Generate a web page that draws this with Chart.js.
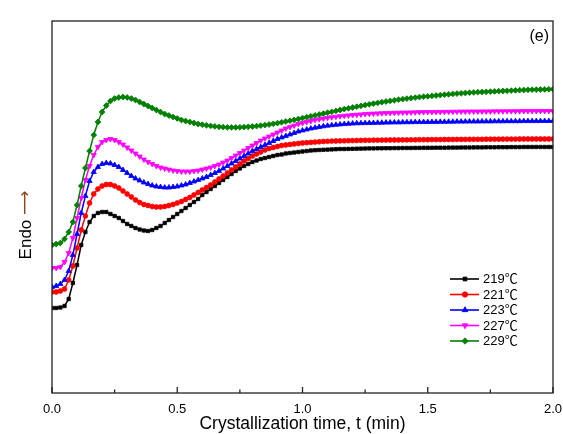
<!DOCTYPE html>
<html>
<head>
<meta charset="utf-8">
<script src="https://cdn.jsdelivr.net/npm/chart.js@4/dist/chart.umd.min.js"></script>
<style>
html,body{margin:0;padding:0;background:#fff;}
#wrap{width:563px;height:434px;position:relative;}
</style>
</head>
<body>
<div id="wrap"><canvas id="c" width="563" height="434"></canvas></div>
<script>
// Sampling: one DSC reading per second, time axis in minutes (0 .. 2 min)
const sampleCount = 121;
const times = Array.from({length: sampleCount}, (_, i) => i / 60);

const seriesLabels = ['219\u2103', '221\u2103', '223\u2103', '227\u2103', '229\u2103'];
const xTickValues = [0, 0.5, 1.0, 1.5, 2.0];

// Heat flow (arbitrary units, endo up)
const endo219 = [85,85,85.5,87,94,110,128,148,161,171,177,180,181,181,179,177,175,172,169,167,165,163.5,162.5,162,163,165,167,170,173,176,179,182,185,188,191,194,198,201,204,207,210,213,216,219,222,224.5,227,229,231,232.5,234,235,236,237,238,238.5,239.5,240,240.5,241,241.5,242,242.5,242.8,243,243.2,243.4,243.6,243.8,244,244,244.1,244.2,244.3,244.4,244.5,244.6,244.6,244.7,244.7,244.8,244.8,244.9,244.9,245,245,245,245.1,245.1,245.2,245.2,245.2,245.3,245.3,245.3,245.4,245.4,245.4,245.5,245.5,245.5,245.6,245.6,245.6,245.7,245.7,245.7,245.8,245.8,245.8,245.9,245.9,245.9,246,246,246,246,246,246,246,246];
const endo221 = [101,101,102,104,113,127,145,163,177,190,199,204,207,208.5,208.5,207,205,202,199,196,193,190.5,188.5,187.5,186.5,186,186,186.5,187.5,188.5,190,191.5,193.5,195.5,198,200.5,203,205.5,208,211,214,217,220,223,226,229,232,234.5,237,239,241,243,244.5,245.5,246.5,247.5,248,248.5,249,249.5,250,250.3,250.6,250.9,251.2,251.5,251.7,251.9,252,252.1,252.2,252.3,252.4,252.5,252.6,252.7,252.7,252.8,252.8,252.9,252.9,253,253,253,253.1,253.1,253.2,253.2,253.3,253.3,253.3,253.4,253.4,253.4,253.5,253.5,253.5,253.6,253.6,253.6,253.7,253.7,253.7,253.7,253.8,253.8,253.8,253.8,253.9,253.9,253.9,253.9,254,254,254,254,254,254,254,254,254];
const endo223 = [106,107,109,113,122,138,159,180,197,212,221,226,229,230,229.5,228,226,223,220,217,214.5,212.5,210.5,209,207.5,206.5,206,205.5,205.5,206,206.5,207.5,208.5,210,211.5,213,214.5,216,218,220,222,224.5,227,229.5,232,234.5,237,239.5,242,244,246,248,250,252,254,255.5,257,258.5,260,261.5,262.5,263.5,264.5,265.3,266,266.7,267.3,267.8,268.2,268.6,268.9,269.2,269.5,269.7,269.8,269.9,270,270.1,270.2,270.3,270.4,270.5,270.6,270.6,270.7,270.8,270.8,270.9,270.9,271,271,271.1,271.1,271.2,271.2,271.3,271.3,271.4,271.4,271.4,271.5,271.5,271.5,271.6,271.6,271.6,271.7,271.7,271.7,271.8,271.8,271.8,271.8,271.9,271.9,271.9,271.9,272,272,272,272];
const endo227 = [125,125,126,131,140,155,175,195,213,227,238,246,251,253,254,253,251,248.5,245.5,242.5,239.5,236.5,233.5,231,229,227,225.5,224.5,223.5,222.5,222,221.5,221.5,221.5,222,222.5,223.5,224.5,225.5,227,228.5,230.5,232.5,235,237.5,240,242.5,245,247.5,250,252.5,254.5,256.5,258.5,260.5,262.5,264.5,266,267.5,269,270,271,272,273,273.8,274.5,275.2,275.8,276.3,276.8,277.2,277.6,278,278.3,278.6,278.9,279.2,279.4,279.6,279.8,280,280.1,280.2,280.3,280.4,280.5,280.6,280.7,280.8,280.9,281,281,281.1,281.1,281.2,281.2,281.3,281.3,281.4,281.4,281.5,281.5,281.5,281.6,281.6,281.6,281.7,281.7,281.7,281.8,281.8,281.8,281.8,281.9,281.9,281.9,281.9,282,282,282,282];
const endo229 = [148,149,150,154,161,171,188,207,225,242,258,271,281,287.5,292,294.5,295.5,296,295.5,294.5,293,291,289,287,285,283,281,279,277.5,276,274.5,273,272,271,270,269,268.3,267.7,267.1,266.6,266.2,265.9,265.7,265.6,265.6,265.7,265.9,266.2,266.5,266.9,267.4,267.9,268.5,269.2,269.9,270.7,271.5,272.3,273.1,274,274.9,275.8,276.7,277.6,278.5,279.4,280.3,281.2,282.1,283,283.9,284.7,285.5,286.3,287.1,287.9,288.7,289.4,290.1,290.8,291.5,292.1,292.7,293.3,293.9,294.4,294.9,295.4,295.9,296.3,296.7,297.1,297.5,297.9,298.3,298.7,299.1,299.4,299.7,300,300.3,300.6,300.8,301,301.2,301.4,301.6,301.8,302,302.2,302.4,302.6,302.8,303,303.2,303.3,303.4,303.5,303.6,303.7,303.8];

const seriesValues = [endo219, endo221, endo223, endo227, endo229];
const seriesColors = ['#000000', '#ff0000', '#0000ff', '#ff00ff', '#008000'];
const seriesPoints = ['rect', 'circle', 'triangle', 'triangle', 'rectRot'];
const seriesRot = [0, 0, 0, 180, 0];
const seriesRadius = [2.4, 2.4, 3, 3, 2.9];

const FONT = "Arial, 'Liberation Sans', 'Noto Sans CJK SC', sans-serif";

const datasets = seriesValues.map((vals, k) => ({
  label: seriesLabels[k],
  data: vals.map((v, i) => ({x: times[i], y: v})),
  borderColor: seriesColors[k],
  backgroundColor: seriesColors[k],
  borderWidth: 1.5,
  pointStyle: seriesPoints[k],
  rotation: seriesRot[k],
  pointRadius: seriesRadius[k],
  pointBorderWidth: 0.8,
  tension: 0,
  order: seriesValues.length - k
}));

const framePlugin = {
  id: 'frame',
  afterDatasetsDraw(chart) {
    const ctx = chart.ctx, a = chart.chartArea, xs = chart.scales.x;
    ctx.save();
    ctx.strokeStyle = '#222';
    ctx.lineWidth = 1.3;
    ctx.strokeRect(a.left, a.top, a.right - a.left, a.bottom - a.top);
    // inward ticks on bottom axis
    for (let t = 0; t <= 2.0001; t += 0.25) {
      const px = xs.getPixelForValue(t);
      const major = Math.abs(t * 2 - Math.round(t * 2)) < 1e-6;
      ctx.beginPath();
      ctx.moveTo(px, a.bottom);
      ctx.lineTo(px, a.bottom - (major ? 6 : 3.5));
      ctx.stroke();
    }
    // panel label
    ctx.fillStyle = '#000';
    ctx.font = '16px ' + FONT;
    ctx.textAlign = 'right';
    ctx.textBaseline = 'alphabetic';
    ctx.fillText('(e)', 549, 41);
    // y title: Endo + arrow, rotated
    ctx.translate(26, 225);
    ctx.rotate(-Math.PI / 2);
    ctx.font = '17px ' + FONT;
    ctx.textBaseline = 'middle';
    ctx.textAlign = 'left';
    const w1 = ctx.measureText('Endo ').width;
    ctx.font = "17px 'DejaVu Sans', sans-serif";
    const w2 = ctx.measureText('\u27F6').width;
    let x0 = -(w1 + w2) / 2;
    ctx.font = '17px ' + FONT;
    ctx.fillStyle = '#000';
    ctx.fillText('Endo ', x0, 0);
    ctx.font = "17px 'DejaVu Sans', sans-serif";
    ctx.fillStyle = '#8b4513';
    ctx.fillText('\u27F6', x0 + w1, 0);
    ctx.restore();

    // legend
    ctx.save();
    chart.data.datasets.forEach((ds, k) => {
      const y = 279 + k * 15.5;
      ctx.strokeStyle = ds.borderColor;
      ctx.lineWidth = 1.6;
      ctx.beginPath();
      ctx.moveTo(450, y);
      ctx.lineTo(479, y);
      ctx.stroke();
      ctx.fillStyle = ds.backgroundColor;
      ctx.lineWidth = 0.8;
      Chart.helpers.drawPoint(ctx, {pointStyle: ds.pointStyle, rotation: ds.rotation, radius: ds.pointRadius + 0.3, borderWidth: 0.8}, 465, y);
      ctx.fillStyle = '#000';
      ctx.font = '13px ' + FONT;
      ctx.textAlign = 'left';
      ctx.textBaseline = 'middle';
      ctx.fillText(ds.label, 483, y + 0.5);
    });
    ctx.restore();
  }
};

new Chart(document.getElementById('c'), {
  type: 'line',
  data: {datasets},
  options: {
    responsive: false,
    animation: false,
    devicePixelRatio: 1,
    layout: {padding: {top: 21, right: 10, left: 0, bottom: 0}},
    plugins: {legend: {display: false}, tooltip: {enabled: false}},
    scales: {
      x: {
        type: 'linear', min: 0, max: 2,
        afterBuildTicks: (s) => { s.ticks = xTickValues.map(v => ({value: v})); },
        afterFit: (s) => { s.height = 41; s.paddingLeft = 0; s.paddingRight = 0; },
        grid: {display: false, drawTicks: false},
        border: {display: false},
        ticks: {
          color: '#000', font: {family: FONT, size: 13}, padding: 9,
          maxRotation: 0, autoSkip: false,
          callback: (v) => Number(v).toFixed(1)
        },
        title: {display: true, text: 'Crystallization time, t (min)', color: '#000', font: {family: FONT, size: 17.5, lineHeight: 1.1}, padding: {top: 0, bottom: 0}}
      },
      y: {
        type: 'linear', min: 0, max: 372,
        afterFit: (s) => { s.width = 52; s.paddingTop = 0; s.paddingBottom = 0; },
        grid: {display: false, drawTicks: false},
        border: {display: false},
        ticks: {display: false}
      }
    }
  },
  plugins: [framePlugin]
});
</script>
</body>
</html>
